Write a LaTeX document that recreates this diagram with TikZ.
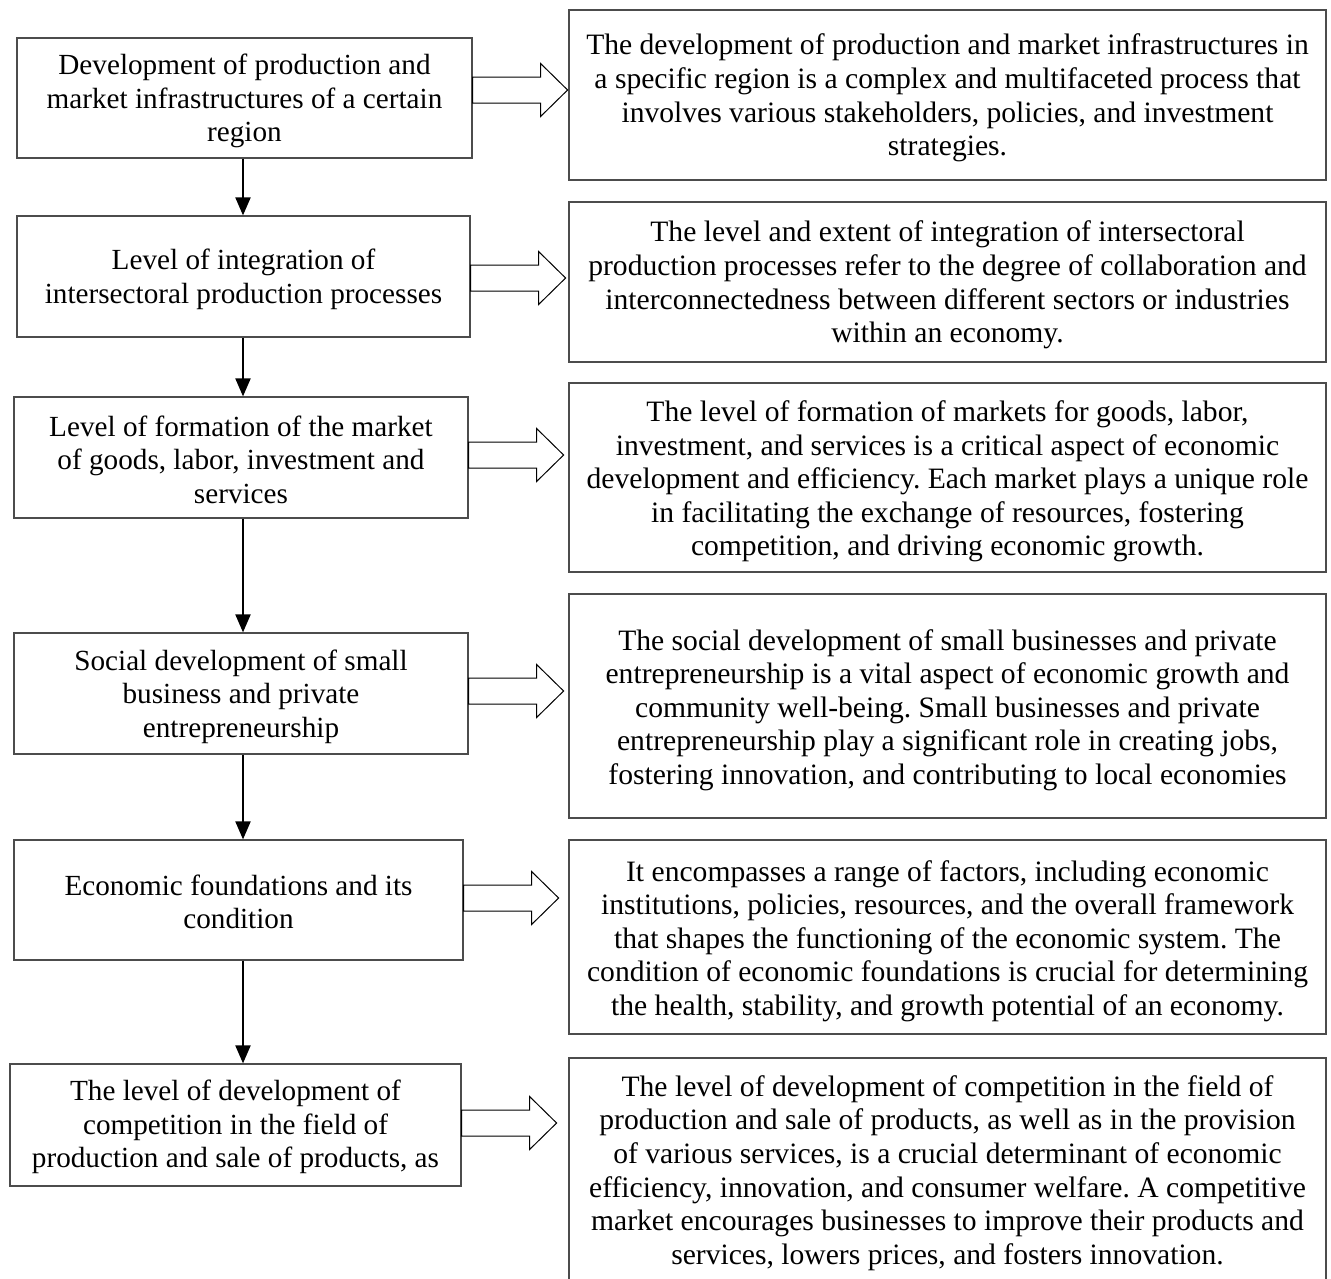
\documentclass[tikz,border=0pt]{standalone}
\usepackage{fontspec}
\setmainfont{Liberation Serif}
\frenchspacing
\usetikzlibrary{arrows.meta}
\tikzset{
  box/.style={draw=black!70, line width=1.2pt, inner sep=0pt},
  lbox/.style={box, minimum height=121pt},
  rbox/.style={box, minimum width=757pt},
  ltxt/.style={inner sep=0pt, align=center, font=\fontsize{29.2}{33.6}\selectfont},
  rtxt/.style={inner sep=0pt, align=center, font=\fontsize{29.6}{33.6}\selectfont},
  dn/.style={-{Triangle[length=18pt,width=15pt]}, line width=2pt},
  blk/.style={draw=black, line width=1pt, fill=white, line join=miter},
}
\newcommand{\blockarrow}[1]{%
  \draw[blk] (#1) -- ++(0,-13) -- ++(68,0) -- ++(0,-13.5) -- ++(27,26.5)
    -- ++(-27,26.5) -- ++(0,-13.5) -- ++(-68,0) -- cycle;}
\begin{document}
\begin{tikzpicture}[x=1pt,y=-1pt]
\useasboundingbox (0,0) rectangle (1331,1278);
% left column boxes
\node[lbox, minimum width=455pt, minimum height=120pt] (b1) at (244.5,98) {};
\node[lbox, minimum width=453pt] (b2) at (243.5,276.5) {};
\node[lbox, minimum width=454pt] (b3) at (241,457.5) {};
\node[lbox, minimum width=454pt] (b4) at (241,693.5) {};
\node[lbox, minimum width=449pt, minimum height=120pt] (b5) at (238.5,900) {};
\node[lbox, minimum width=451pt, minimum height=122pt] (b6) at (235.5,1125) {};
% left column texts
\node[ltxt] (t1) at ([yshift=-3pt]b1.center)
  {Development of production and\\market infrastructures of a certain\\region};
\node[ltxt] (t2) at ([yshift=-3pt]b2.center)
  {Level of integration of\\intersectoral production processes};
\node[ltxt] (t3) at ([yshift=-2pt]b3.center)
  {Level of formation of the market\\of goods, labor, investment and\\services};
\node[ltxt] (t4) at ([yshift=-3pt]b4.center)
  {Social development of small\\business and private\\entrepreneurship};
\node[ltxt] (t5) at ([yshift=-2pt]b5.center)
  {Economic foundations and its\\condition};
\node[ltxt] (t6) at ([yshift=-2pt]b6.center)
  {The level of development of\\competition in the field of\\production and sale of products, as};
% right column boxes
\node[rbox, minimum height=170pt] (r1) at (947.5,95) {};
\node[rbox, minimum height=160pt] (r2) at (947.5,282) {};
\node[rbox, minimum height=189pt] (r3) at (947.5,477.5) {};
\node[rbox, minimum height=224pt] (r4) at (947.5,706) {};
\node[rbox, minimum height=194pt] (r5) at (947.5,937) {};
\node[rbox, minimum height=224pt] (r6) at (947.5,1170) {};
% right column texts
\node[rtxt] (s1) at ([yshift=-3pt]r1.center)
  {The development of production and market infrastructures in\\a specific region is a complex and multifaceted process that\\involves various stakeholders, policies, and investment\\strategies.};
\node[rtxt] (s2) at ([yshift=-3pt]r2.center)
  {The level and extent of integration of intersectoral\\production processes refer to the degree of collaboration and\\interconnectedness between different sectors or industries\\within an economy.};
\node[rtxt] (s3) at ([yshift=-4pt]r3.center)
  {The level of formation of markets for goods, labor,\\investment, and services is a critical aspect of economic\\development and efficiency. Each market plays a unique role\\in facilitating the exchange of resources, fostering\\competition, and driving economic growth.};
\node[rtxt] (s4) at ([yshift=-4pt]r4.center)
  {The social development of small businesses and private\\entrepreneurship is a vital aspect of economic growth and\\community well-being. Small businesses and private\\entrepreneurship play a significant role in creating jobs,\\fostering innovation, and contributing to local economies};
\node[rtxt] (s5) at ([yshift=-4pt]r5.center)
  {It encompasses a range of factors, including economic\\institutions, policies, resources, and the overall framework\\that shapes the functioning of the economic system. The\\condition of economic foundations is crucial for determining\\the health, stability, and growth potential of an economy.};
\node[rtxt] (s6) at ([yshift=-3pt]r6.center)
  {The level of development of competition in the field of\\production and sale of products, as well as in the provision\\of various services, is a crucial determinant of economic\\efficiency, innovation, and consumer welfare. A competitive\\market encourages businesses to improve their products and\\services, lowers prices, and fosters innovation.};
% vertical connectors
\coordinate (ax) at (243,0);
\draw[dn] (b1.south -| ax) -- (b2.north -| ax);
\draw[dn] (b2.south -| ax) -- (b3.north -| ax);
\draw[dn] (b3.south -| ax) -- (b4.north -| ax);
\draw[dn] (b4.south -| ax) -- (b5.north -| ax);
\draw[dn] (b5.south -| ax) -- (b6.north -| ax);
% block arrows
\coordinate (y1) at (0,90);
\coordinate (y2) at (0,278);
\coordinate (y3) at (0,455);
\coordinate (y4) at (0,691);
\coordinate (y5) at (0,898);
\coordinate (y6) at (0,1123);
\blockarrow{b1.east |- y1}
\blockarrow{b2.east |- y2}
\blockarrow{b3.east |- y3}
\blockarrow{b4.east |- y4}
\blockarrow{b5.east |- y5}
\blockarrow{b6.east |- y6}
\end{tikzpicture}
\end{document}
